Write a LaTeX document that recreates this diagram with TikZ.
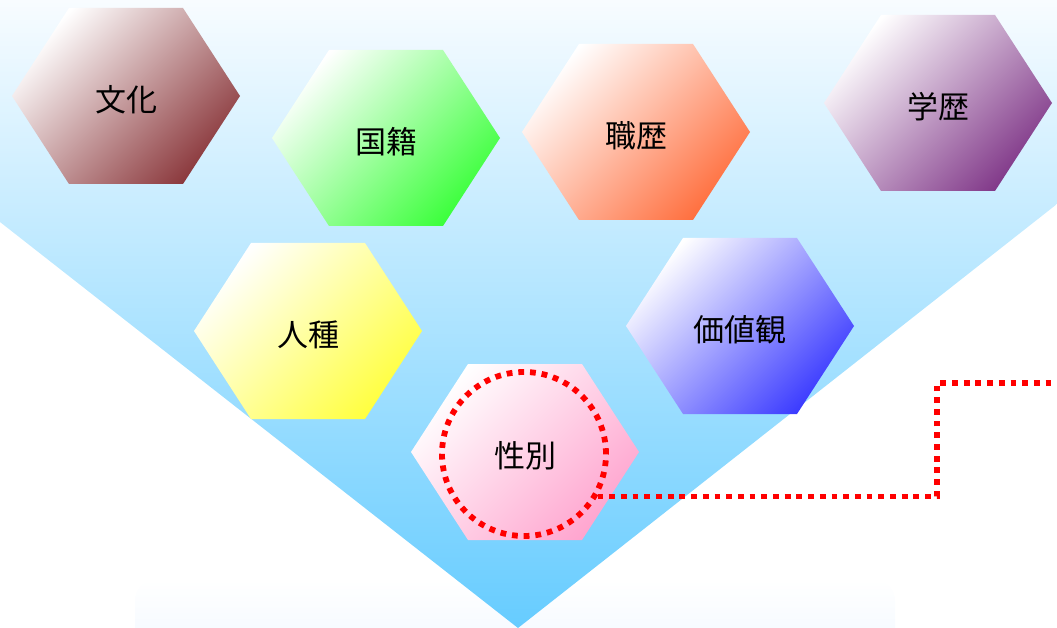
\documentclass[tikz,border=0pt]{standalone}
\usepackage{fontspec}
\setmainfont{Noto Sans CJK JP}
\usetikzlibrary{calc,positioning}
\definecolor{sorausu}{HTML}{F8FCFF}
\definecolor{sorako}{HTML}{66CCFF}
\definecolor{daiusu}{HTML}{EEF6FE}
\definecolor{bunkairo}{HTML}{8C3A3E}
\definecolor{kokuiro}{HTML}{3CFF3C}
\definecolor{shokuiro}{HTML}{FF7040}
\definecolor{gakuiro}{HTML}{823A8A}
\definecolor{jinshuiro}{HTML}{FFFF40}
\definecolor{kachiiro}{HTML}{3C3CFF}
\definecolor{seiiro}{HTML}{FFA5CF}

\begin{document}
\begin{tikzpicture}[x=1pt,y=-1pt]
		\tikzstyle{every node}=[font=\fontsize{31}{37}\selectfont]
		\tikzstyle{tenten}=[red, line width=5.8pt, dash pattern=on 5.8pt off 5.9pt]
		\useasboundingbox (0,0) rectangle (1057,628);
		% bottom plate and funnel
		\shade [top color=white, bottom color=daiusu, rounded corners=20pt] (135,580) rectangle (895,680);
		\shade [top color=sorausu, bottom color=sorako] (0,0) -- (1057,0) -- (1057,204) -- (518,628) -- (0,222) -- cycle;
		% hexagons
		\foreach \x/\y/\iro/\moji/\na in {126/96/bunkairo/文化/bunka, 386/138/kokuiro/国籍/kokuseki, 636/132/shokuiro/職歴/shokureki, 938/103/gakuiro/学歴/gakureki, 308/331/jinshuiro/人種/jinshu, 740/326/kachiiro/価値観/kachikan, 525/452/seiiro/性別/seibetsu} {
			\begin{scope}[shift={(\x,\y)}]
				\shade [top color=white, bottom color=\iro, shading angle=45] (-114,0) -- (-57,-88) -- (57,-88) -- (114,0) -- (57,88) -- (-57,88) -- cycle;
			\end{scope}
			\node (\na) at ($(\x,\y)+(0,4)$) {\moji};
		}
		% highlight
		\node [draw, tenten, circle, minimum size=164pt] (maru) at (524,454) {};
		\coordinate (kado) at (937,383);
		\coordinate (hashi) at (1057,383);
		\draw [tenten] (maru.-30) -| (kado) -- (hashi);
	\end{tikzpicture}
\end{document}
